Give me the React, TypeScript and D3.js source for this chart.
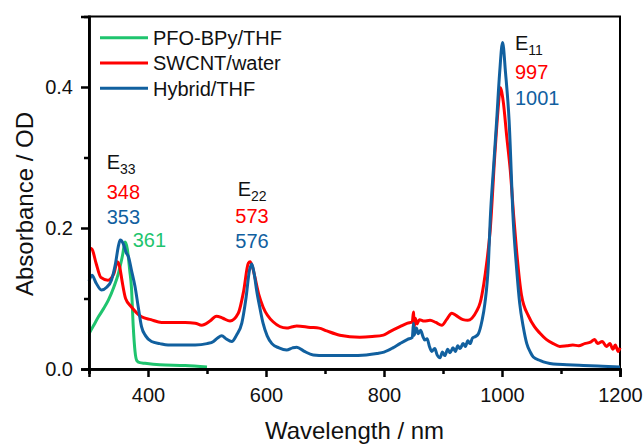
import { useEffect, useRef } from 'react'
import * as d3 from 'd3'

// [wavelength (nm), absorbance (OD)]
const pfoBpy: [number, number][] = [
  [300, 0.05], [308, 0.062], [316, 0.074], [325, 0.086], [333, 0.098], [342, 0.116],
  [350, 0.136], [357, 0.162], [361, 0.18], [365, 0.17], [369, 0.14], [372, 0.115],
  [375, 0.06], [378, 0.025], [381, 0.012], [386, 0.009], [395, 0.008], [420, 0.006],
  [463, 0.005], [500, 0.003],
]

const swcnt: [number, number][] = [
  [300, 0.172], [305, 0.17], [312, 0.15], [320, 0.13], [332, 0.126], [342, 0.135],
  [348, 0.152], [352, 0.145], [356, 0.125], [362, 0.1], [372, 0.088], [389, 0.074],
  [405, 0.07], [423, 0.066], [445, 0.066], [463, 0.066], [480, 0.065], [491, 0.062],
  [505, 0.068], [516, 0.075], [527, 0.072], [539, 0.068], [553, 0.079], [562, 0.11],
  [570, 0.15], [573, 0.152], [577, 0.145], [581, 0.131], [588, 0.105], [595, 0.088],
  [612, 0.067], [635, 0.058], [645, 0.06], [652, 0.061], [675, 0.059], [690, 0.058],
  [703, 0.054], [725, 0.048], [759, 0.045], [780, 0.046], [799, 0.048], [810, 0.053],
  [827, 0.06], [840, 0.065], [848, 0.067], [850, 0.081], [851, 0.058], [853, 0.072],
  [856, 0.064], [860, 0.07], [868, 0.068], [878, 0.069], [888, 0.066], [898, 0.062],
  [906, 0.07], [915, 0.079], [922, 0.076], [934, 0.07], [942, 0.069], [949, 0.072],
  [957, 0.082], [963, 0.094], [969, 0.12], [974, 0.15], [980, 0.197], [988, 0.306],
  [994, 0.375], [997, 0.399], [1002, 0.38], [1008, 0.33], [1014, 0.282], [1020, 0.215],
  [1025, 0.165], [1033, 0.105], [1045, 0.075], [1055, 0.06], [1064, 0.051], [1075, 0.042],
  [1087, 0.036], [1098, 0.032], [1110, 0.033], [1120, 0.034], [1130, 0.033], [1140, 0.036],
  [1150, 0.038], [1157, 0.042], [1162, 0.036], [1170, 0.039], [1177, 0.032], [1183, 0.036],
  [1188, 0.028], [1192, 0.034], [1197, 0.025], [1200, 0.03],
]

const hybrid: [number, number][] = [
  [300, 0.125], [305, 0.133], [312, 0.122], [321, 0.112], [330, 0.116], [338, 0.126],
  [345, 0.15], [350, 0.175], [353, 0.183], [358, 0.178], [363, 0.165], [367, 0.159],
  [372, 0.14], [378, 0.117], [384, 0.085], [389, 0.06], [396, 0.047], [406, 0.039],
  [420, 0.036], [434, 0.034], [460, 0.034], [480, 0.034], [500, 0.036], [511, 0.039],
  [518, 0.044], [525, 0.047], [532, 0.043], [542, 0.039], [550, 0.048], [559, 0.065],
  [566, 0.1], [572, 0.14], [576, 0.149], [580, 0.135], [584, 0.112], [590, 0.085],
  [595, 0.065], [602, 0.047], [610, 0.036], [622, 0.03], [635, 0.027], [645, 0.03],
  [652, 0.031], [665, 0.025], [680, 0.02], [700, 0.019], [742, 0.019], [770, 0.02],
  [788, 0.022], [800, 0.024], [815, 0.03], [827, 0.036], [840, 0.042], [848, 0.045],
  [850, 0.065], [851, 0.048], [855, 0.058], [858, 0.05], [862, 0.055], [866, 0.046],
  [869, 0.041], [873, 0.043], [877, 0.032], [881, 0.025], [886, 0.029], [890, 0.02],
  [895, 0.016], [899, 0.024], [903, 0.019], [908, 0.028], [912, 0.023], [917, 0.03],
  [921, 0.025], [925, 0.033], [929, 0.029], [934, 0.036], [938, 0.032], [942, 0.04],
  [946, 0.036], [950, 0.044], [955, 0.046], [960, 0.05], [966, 0.068], [971, 0.093],
  [977, 0.15], [980, 0.211], [986, 0.29], [991, 0.353], [996, 0.42], [1001, 0.463],
  [1006, 0.42], [1012, 0.353], [1019, 0.211], [1025, 0.14], [1030, 0.093], [1036, 0.06],
  [1042, 0.036], [1048, 0.024], [1053, 0.017], [1065, 0.012], [1075, 0.009], [1087, 0.007],
  [1110, 0.006], [1138, 0.005], [1170, 0.004], [1200, 0.003],
]

const seriesNames = ['PFO-BPy/THF', 'SWCNT/water', 'Hybrid/THF']
const seriesColors = ['#1fc46e', '#ff0000', '#11609f']

const xMajorTicks = [400, 600, 800, 1000, 1200]
const xMinorTicks = [300, 500, 700, 900, 1100]
const yMajorTicks = [0, 0.2, 0.4]
const yMinorTicks = [0.1, 0.3]

// peak annotations: [wavelength, absorbance] anchor for the text baseline
const peakTitles = [
  { sub: '33', at: [330, 0.284] },
  { sub: '22', at: [552, 0.245] },
  { sub: '11', at: [1022, 0.452] },
]
const peakLabels = [
  { text: '348', series: 1, at: [330, 0.241] },
  { text: '353', series: 2, at: [330, 0.206] },
  { text: '361', series: 0, at: [374, 0.173] },
  { text: '573', series: 1, at: [548, 0.207] },
  { text: '576', series: 2, at: [548, 0.172] },
  { text: '997', series: 1, at: [1022, 0.411] },
  { text: '1001', series: 2, at: [1022, 0.374] },
]

export default function App() {
  const svgRef = useRef<SVGSVGElement>(null)

  useEffect(() => {
    if (!svgRef.current) return
    const width = 644
    const height = 444
    const margin = { top: 16.5, right: 24, bottom: 75, left: 89 }
    const font = "'Liberation Sans', Arial, sans-serif"

    const svg = d3.select(svgRef.current)
    svg.selectAll('*').remove()
    svg.attr('width', width).attr('height', height)

    const x = d3.scaleLinear().domain([300, 1200]).range([margin.left, width - margin.right])
    const y = d3.scaleLinear().domain([0, 0.5]).range([height - margin.bottom, margin.top])

    // frame
    svg.append('rect')
      .attr('x', x(300)).attr('y', y(0.5))
      .attr('width', x(1200) - x(300)).attr('height', y(0) - y(0.5))
      .attr('fill', 'none').attr('stroke', '#000').attr('stroke-width', 2)

    // curves
    const line = d3.line<[number, number]>()
      .x(d => x(d[0]))
      .y(d => y(d[1]))
      .curve(d3.curveMonotoneX)

    const allSeries = [pfoBpy, swcnt, hybrid]
    const drawOrder = [0, 1, 2]
    drawOrder.forEach(i => {
      svg.append('path')
        .datum(allSeries[i])
        .attr('d', line)
        .attr('fill', 'none')
        .attr('stroke', seriesColors[i])
        .attr('stroke-width', 3)
        .attr('stroke-linejoin', 'round')
    })

    // axes
    const styleAxis = (g: any) => {
      g.select('.domain').attr('stroke-width', 2.5)
      g.selectAll('.tick line').attr('stroke-width', 2.5)
      g.selectAll('text').attr('font-size', 20).attr('font-family', font).attr('fill', '#111')
    }

    svg.append('g')
      .attr('transform', `translate(0,${y(0)})`)
      .call(d3.axisBottom(x).tickValues(xMajorTicks).tickSize(8).tickPadding(11).tickFormat(d3.format('d')))
      .call(styleAxis)
    svg.append('g')
      .attr('transform', `translate(0,${y(0)})`)
      .call(d3.axisBottom(x).tickValues(xMinorTicks).tickSize(5).tickFormat(() => ''))
      .call(styleAxis)

    svg.append('g')
      .attr('transform', `translate(${x(300)},0)`)
      .call(d3.axisLeft(y).tickValues(yMajorTicks).tickSize(8).tickPadding(8).tickFormat(d3.format('.1f')))
      .call(styleAxis)
    svg.append('g')
      .attr('transform', `translate(${x(300)},0)`)
      .call(d3.axisLeft(y).tickValues(yMinorTicks).tickSize(5).tickFormat(() => ''))
      .call(styleAxis)

    // axis titles
    svg.append('text')
      .attr('x', (x(300) + x(1200)) / 2)
      .attr('y', 439)
      .attr('text-anchor', 'middle')
      .attr('font-size', 24).attr('font-family', font).attr('fill', '#111')
      .text('Wavelength / nm')
    svg.append('text')
      .attr('transform', `translate(33,204) rotate(-90)`)
      .attr('text-anchor', 'middle')
      .attr('font-size', 24).attr('font-family', font).attr('fill', '#111')
      .text('Absorbance / OD')

    // legend
    seriesNames.forEach((name, i) => {
      const ly = 37.7 + i * 25.3
      svg.append('line')
        .attr('x1', 100).attr('x2', 148)
        .attr('y1', ly).attr('y2', ly)
        .attr('stroke', seriesColors[i]).attr('stroke-width', 3)
      svg.append('text')
        .attr('x', 153).attr('y', ly + 7.3)
        .attr('font-size', 20).attr('font-family', font).attr('fill', '#111')
        .text(name)
    })

    // peak annotations
    peakTitles.forEach(p => {
      const t = svg.append('text')
        .attr('x', x(p.at[0])).attr('y', y(p.at[1]))
        .attr('font-size', 20).attr('font-family', font).attr('fill', '#111')
      t.append('tspan').text('E')
      t.append('tspan').attr('font-size', 14).attr('dy', 5).text(p.sub)
    })
    peakLabels.forEach(p => {
      svg.append('text')
        .attr('x', x(p.at[0])).attr('y', y(p.at[1]))
        .attr('font-size', 20).attr('font-family', font)
        .attr('fill', seriesColors[p.series])
        .text(p.text)
    })
  }, [])

  return (
    <svg ref={svgRef} style={{ position: 'absolute', left: 0, top: 0, background: '#fff' }}></svg>
  )
}
